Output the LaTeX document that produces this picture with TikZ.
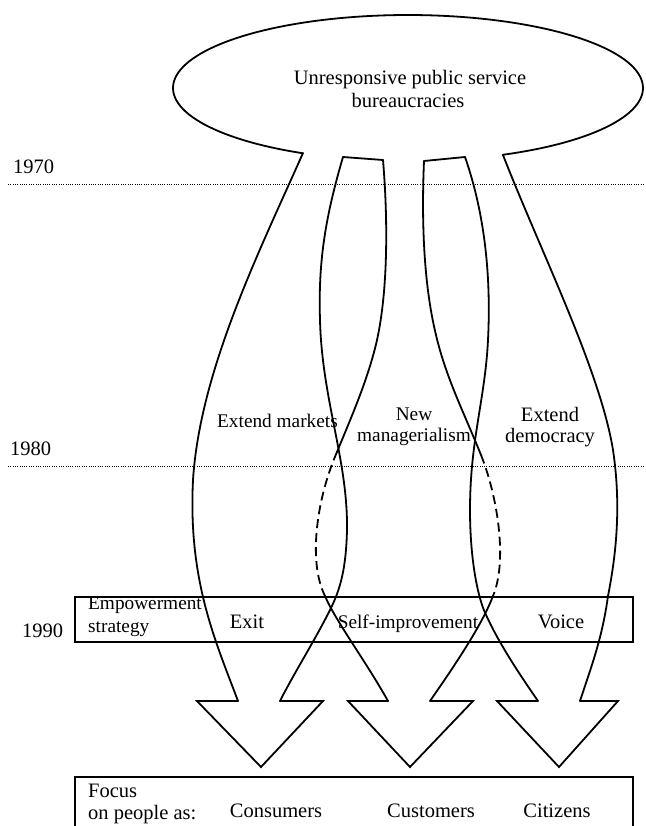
\documentclass[tikz,border=0pt]{standalone}
\usepackage{fontspec}
\setmainfont{Liberation Serif}
\begin{document}
\begin{tikzpicture}[x=1pt,y=-1pt,
  txt/.style={font=\fontsize{20.5}{24}\selectfont, inner sep=0pt},
  txs/.style={font=\fontsize{19.3}{23}\selectfont, inner sep=0pt},
  arr/.style={line width=1.8pt, line cap=round, line join=round},
  head/.style={line width=1.8pt, line cap=round, line join=miter},
  hid/.style={line width=1.8pt, dash pattern=on 9pt off 5pt},
  dotline/.style={line width=0.8pt, dash pattern=on 0.9pt off 1.4pt},
  box/.style={line width=2.3pt}]
\useasboundingbox (0,0) rectangle (645,826);

% period lines
\draw[dotline] (8,184) -- (645,184);
\draw[dotline] (8,466) -- (645,466);

% ellipse (open at the bottom)
\draw[arr] plot[domain=116.6:426.2, samples=140] ({408+235*cos(\x)},{88+73*sin(\x)});

% arrow 1 left edge
\draw[arr] (303,153) .. controls (260,250) and (200,370) .. (193,480)
                     .. controls (188,580) and (215,640) .. (238,701);
\draw[head] (238,701) -- (197,701) -- (261,767) -- (323,701) -- (280,701);
% line A (strip 1 left edge -> arrow 1 right edge)
\draw[arr] (343,157) .. controls (326,215) and (318,260) .. (320,320)
                     .. controls (322,400) and (348,460) .. (347,530)
                     .. controls (346,570) and (340,590) .. (330,610)
                     .. controls (315,640) and (293,675) .. (280,701);
\draw[arr] (343,157) -- (383,160);
% line B (strip 1 right edge -> arrow 2 left edge)
\draw[arr] (383,160) .. controls (388,220) and (388,290) .. (377,340)
                     .. controls (368,380) and (350,420) .. (337,452);
\draw[hid] (337,452) .. controls (318,495) and (307,560) .. (325,596);
\draw[arr] (325,596) .. controls (335,620) and (365,660) .. (388,701);
\draw[head] (388,701) -- (348,701) -- (410,767) -- (473,701) -- (430,701);
% line C (strip 2 left edge -> arrow 2 right edge)
\draw[arr] (424,161) .. controls (421,230) and (425,290) .. (436,335)
                     .. controls (446,378) and (465,415) .. (481,455);
\draw[hid] (481,455) .. controls (497,495) and (508,560) .. (493,596);
\draw[arr] (493,596) .. controls (482,625) and (455,665) .. (430,701);
\draw[arr] (424,161) -- (465,157);
% line D (strip 2 right edge -> arrow 3 left edge)
\draw[arr] (465,157) .. controls (480,200) and (492,260) .. (488,340)
                     .. controls (485,400) and (470,440) .. (470,510)
                     .. controls (470,560) and (478,600) .. (487,617)
                     .. controls (500,645) and (520,675) .. (538,701);
\draw[head] (538,701) -- (497,701) -- (559,767) -- (618,701) -- (580,701);
% arrow 3 right edge
\draw[arr] (503,155) .. controls (540,250) and (600,370) .. (613,450)
                     .. controls (622,510) and (615,560) .. (608,596)
                     .. controls (602,640) and (590,670) .. (580,701);

% boxes
\draw[box] (75,597) rectangle (633,642);
\draw[box] (75,835) -- (75,777) -- (633,777) -- (633,835);

% texts
\node[txt, anchor=base] (t1) at (410,85) {Unresponsive public service};
\node[txt, anchor=base] (t2) at (408,108) {bureaucracies};
\node[txt, anchor=base west] (y70) at (13,174) {1970};
\node[txt, anchor=base west] (y80) at (10,455) {1980};
\node[txt, anchor=base west] (y90) at (22,637) {1990};
\node[txs, anchor=base west] (em) at (217,427) {Extend markets};
\node[txs, anchor=base] (nm1) at (414,420) {New};
\node[txs, anchor=base] (nm2) at (414,441) {managerialism};
\node[txt, anchor=base] (ed1) at (550,421) {Extend};
\node[txt, anchor=base] (ed2) at (550,442) {democracy};
\node[txs, anchor=base west] (es1) at (88,609) {Empowerment};
\node[txs, anchor=base west] (es2) at (88,632) {strategy};
\node[txt, anchor=base] (ex) at (247,628) {Exit};
\node[txs, anchor=base] (si) at (408,628) {Self-improvement};
\node[txt, anchor=base] (vo) at (561,628) {Voice};
\node[txt, anchor=base west] (fo1) at (88,797) {Focus};
\node[txt, anchor=base west] (fo2) at (88,819) {on people as:};
\node[txt, anchor=base] (co) at (276,817) {Consumers};
\node[txt, anchor=base] (cu) at (431,817) {Customers};
\node[txt, anchor=base] (ci) at (557,817) {Citizens};
\end{tikzpicture}
\end{document}
